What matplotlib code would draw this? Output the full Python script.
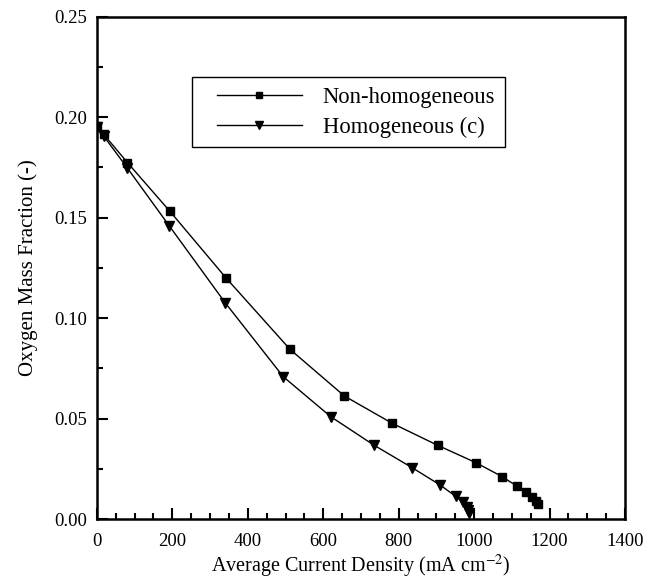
import matplotlib
matplotlib.use("Agg")
from matplotlib import pyplot as plt
from matplotlib.ticker import MultipleLocator
from matplotlib.lines import Line2D
from matplotlib.legend_handler import HandlerLine2D

# values
nonhomo_x = [0, 18, 81, 193, 342, 512, 656, 783, 903, 1005, 1075, 1113, 1137, 1153, 1163, 1170]
nonhomo_y = [0.1955, 0.1914, 0.1773, 0.1532, 0.1200, 0.0844, 0.0612, 0.0476, 0.0367, 0.0280,
             0.0210, 0.0164, 0.0134, 0.0108, 0.0088, 0.0073]

homo_x = [0, 18, 80, 192, 340, 494, 620, 734, 836, 910, 951, 971, 980, 984, 987]
homo_y = [0.1950, 0.1905, 0.1748, 0.1458, 0.1076, 0.0708, 0.0509, 0.0368, 0.0255, 0.0169,
          0.0113, 0.0083, 0.0060, 0.0045, 0.0030]

plt.rcParams['font.family'] = ['Liberation Serif', 'DejaVu Serif']
plt.rcParams['mathtext.fontset'] = 'stix'

fig = plt.figure(figsize=(6.46, 5.81), dpi=100)
ax = fig.add_axes([0.150, 0.1067, 0.8175, 0.8649])

ax.plot(nonhomo_x, nonhomo_y, color='black', lw=1.0, marker='s', ms=5.8,
        label='Non-homogeneous')
ax.plot(homo_x, homo_y, color='black', lw=1.0, marker='v', ms=6.5,
        label='Homogeneous (c)')

ax.set_xlim(0, 1400)
ax.set_ylim(0, 0.25)
ax.xaxis.set_major_locator(MultipleLocator(200))
ax.xaxis.set_minor_locator(MultipleLocator(50))
ax.yaxis.set_major_locator(MultipleLocator(0.05))
ax.yaxis.set_minor_locator(MultipleLocator(0.025))
ax.yaxis.set_major_formatter(plt.FormatStrFormatter('%.2f'))

ax.tick_params(which='both', direction='in', top=False, right=False, labelsize=13.5,
               width=1.5)
ax.tick_params(axis='x', which='both', pad=10)
ax.tick_params(axis='y', which='both', pad=7)
ax.tick_params(which='major', length=8)
ax.tick_params(which='minor', length=4)
for s in ax.spines.values():
    s.set_linewidth(1.8)

ax.set_xlabel(r'Average Current Density (mA cm$^{-2}$)', fontsize=14.5, labelpad=2.5)
ax.set_ylabel('Oxygen Mass Fraction (-)', fontsize=15, labelpad=12)

leg = ax.legend(loc='upper left', bbox_to_anchor=(192 / 646, 1 - 77 / 581),
                bbox_transform=fig.transFigure, borderaxespad=0, fancybox=False,
                framealpha=1, edgecolor='black', fontsize=16.3, handlelength=4.42,
                handletextpad=0.93, borderpad=0.42, labelspacing=0.4, markerscale=0.85,
                handler_map={Line2D: HandlerLine2D(xpad=0.7)})
leg.get_frame().set_linewidth(1.0)

fig.savefig('out.png', dpi=100)
